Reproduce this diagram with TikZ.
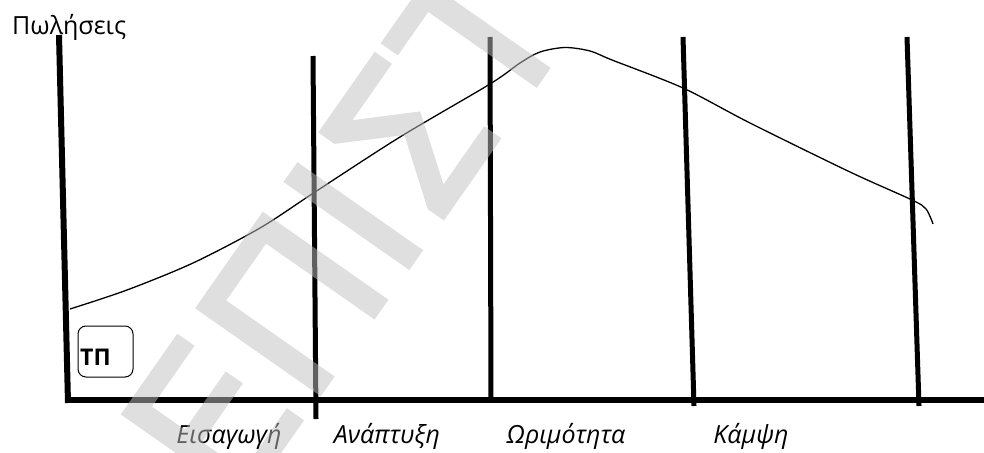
\documentclass[tikz,border=0pt]{standalone}
\usepackage{fontspec}
\setmainfont{Open Sans}
\newfontfamily\wmfont{DejaVu Sans}
\definecolor{wm}{RGB}{192,192,192}
\begin{document}
\begin{tikzpicture}[x=1pt,y=-1pt,
  axisline/.style={line width=6pt},
  phaseline/.style={line width=5pt},
  phaselabel/.style={anchor=base,inner sep=0pt,font=\fontsize{25}{28}\selectfont\itshape},
  curveline/.style={line width=1.3pt},
  tpbox/.style={draw,line width=1pt,rounded corners=8pt,minimum width=55pt,minimum height=51pt,inner sep=0pt}]
\useasboundingbox (0,0) rectangle (984,452);
% axes
\coordinate (ytop) at (59,35);
\coordinate (ybot) at (68,403);
\coordinate (xleft) at (66,400);
\coordinate (xright) at (984,400);
\draw[axisline] (ytop) -- (ybot);
\draw[axisline] (xleft) -- (xright);
% phase lines
\coordinate (l1t) at (313,56); \coordinate (l1b) at (316,419);
\coordinate (l2t) at (490,37); \coordinate (l2b) at (491,400);
\coordinate (l3t) at (683,37); \coordinate (l3b) at (694,406);
\coordinate (l4t) at (907,37); \coordinate (l4b) at (919,406);
\draw[phaseline] (l1t) -- (l1b);
\draw[phaseline] (l2t) -- (l2b);
\draw[phaseline] (l3t) -- (l3b);
\draw[phaseline] (l4t) -- (l4b);
% curve
\draw[curveline] plot[smooth,tension=0.5] coordinates {(70,309) (127,290) (193,263) (260,228) (315,192) (400,137) (490,84) (520,63) (540,52) (565,47.5) (590,51) (612,60) (683,88) (750,123) (850,172) (912,200) (926,209) (933,224)};
% labels
\node[anchor=base west,inner sep=0pt,font=\fontsize{25}{28}\selectfont] (ylabel) at (12,35) {Πωλήσεις};
\node[phaselabel] (p1) at (229,443) {Εισαγωγή};
\node[phaselabel] (p2) at (387,443) {Ανάπτυξη};
\node[phaselabel] (p3) at (566,443) {Ωριμότητα};
\node[phaselabel] (p4) at (751,443) {Κάμψη};
% TP box
\node[tpbox] (tp) at (105.5,351.5) {};
\node[anchor=base west,inner sep=0pt,font=\fontsize{23}{24}\selectfont\bfseries] (tptext) at (80,365) {ΤΠ};
% watermark (semi-transparent, on top)
\begin{scope}
\clip (0,0) rectangle (984,452);
\begin{scope}[transparency group,opacity=0.5]
\node[wm,rotate=55,inner sep=0pt,font=\wmfont\fontsize{205}{205}\selectfont] (wmark) at (345,228) {\special{pdf:literal direct 4 w 2 Tr}ΕΠΙΣΤ\special{pdf:literal direct 0 Tr}};
\end{scope}
\end{scope}
\end{tikzpicture}
\end{document}
